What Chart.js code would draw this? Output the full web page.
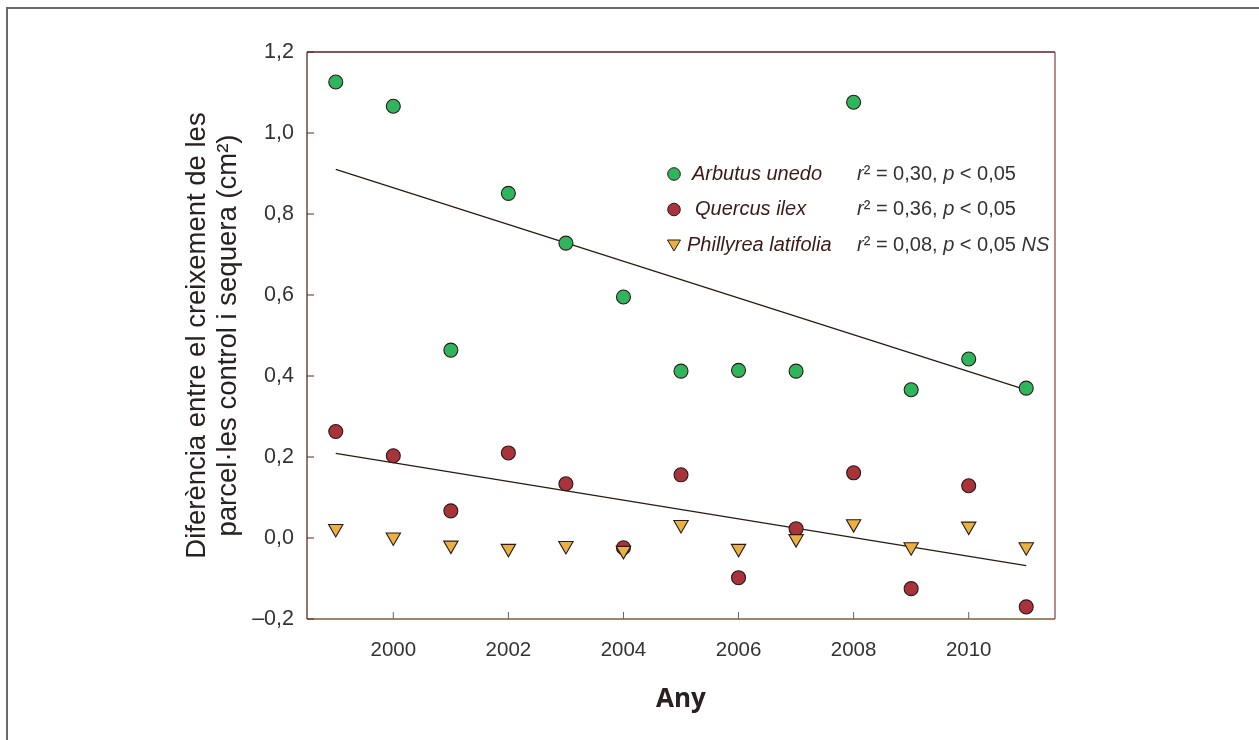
<!DOCTYPE html>
<html>
<head>
<meta charset="utf-8">
<script src="https://cdn.jsdelivr.net/npm/chart.js@4/dist/chart.umd.min.js"></script>
<style>
  html, body { margin: 0; padding: 0; background: #fff; }
  #wrap { position: relative; width: 1259px; height: 740px; overflow: hidden; }
  #box { position: absolute; left: 6px; top: 7px; width: 1300px; height: 800px;
         border-top: 2px solid #6a6a6a; border-left: 2px solid #6a6a6a; }
  canvas { position: absolute; left: 0; top: 0; }
</style>
</head>
<body>
<div id="wrap">
  <div id="box"></div>
  <canvas id="myChart" width="1259" height="740"></canvas>
</div>
<script>
// years and per-species differences (cm2)
const years = [1999, 2000, 2001, 2002, 2003, 2004, 2005, 2006, 2007, 2008, 2009, 2010, 2011];
const arbutus = [1.126, 1.066, 0.464, 0.851, 0.728, 0.595, 0.412, 0.414, 0.412, 1.076, 0.366, 0.442, 0.370];
const quercus = [0.263, 0.203, 0.067, 0.210, 0.134, -0.024, 0.156, -0.098, 0.023, 0.161, -0.125, 0.129, -0.170];
const phillyrea = [0.023, 0.002, -0.018, -0.026, -0.019, -0.031, 0.033, -0.026, -0.002, 0.035, -0.022, 0.029, -0.022];

// regression line ends
const fitYears = [1999, 2011];
const arbutusFit = [0.910, 0.366];
const quercusFit = [0.209, -0.068];

const xTicks = [2000, 2002, 2004, 2006, 2008, 2010];
const yTicks = [-0.2, 0, 0.2, 0.4, 0.6, 0.8, 1.0, 1.2];

const species = ['Arbutus unedo', 'Quercus ilex', 'Phillyrea latifolia'];
const r2Values = ['0,30', '0,36', '0,08'];
const pValues = ['< 0,05', '< 0,05', '< 0,05'];
const notes = ['', '', 'NS'];

const yTitle = ['Diferència entre el creixement de les', 'parcel·les control i sequera (cm²)'];
const xTitle = 'Any';

const green = '#2fb55c';
const red = '#a8333b';
const orange = '#e9b143';
const edge = '#2b1a1a';
const FONT = "'Liberation Sans', Arial, sans-serif";

function pts(xs, ys) {
	return xs.map((v, i) => ({x: v, y: ys[i]}));
}

function drawRuns(ctx, x, y, runs, size) {
	runs.forEach(r => {
		ctx.font = (r[1] ? 'italic ' : '') + size + 'px ' + FONT;
		ctx.fillStyle = r[2] || '#333';
		ctx.fillText(r[0], x, y);
		x += ctx.measureText(r[0]).width;
	});
}

function marker(ctx, kind, x, y, fill) {
	ctx.save();
	ctx.fillStyle = fill;
	ctx.strokeStyle = edge;
	ctx.lineWidth = 1;
	ctx.beginPath();
	if (kind === 'circle') {
		ctx.arc(x, y, 6.3, 0, Math.PI * 2);
	} else {
		ctx.moveTo(x - 6.5, y - 5);
		ctx.lineTo(x + 6.5, y - 5);
		ctx.lineTo(x, y + 6);
		ctx.closePath();
	}
	ctx.fill();
	ctx.stroke();
	ctx.restore();
}

const frame = {
	id: 'frame',
	afterDatasetsDraw(chart) {
		const {ctx, chartArea: a, scales: {x, y}} = chart;
		ctx.save();
		ctx.lineWidth = 1.3;
		// box
		ctx.strokeStyle = '#5a2020';
		ctx.beginPath(); ctx.moveTo(a.left, a.top); ctx.lineTo(a.right, a.top); ctx.stroke();
		ctx.strokeStyle = '#5a2a22';
		ctx.beginPath(); ctx.moveTo(a.left, a.top); ctx.lineTo(a.left, a.bottom); ctx.stroke();
		ctx.strokeStyle = '#9a4a4a';
		ctx.beginPath(); ctx.moveTo(a.right, a.top); ctx.lineTo(a.right, a.bottom); ctx.stroke();
		ctx.strokeStyle = '#7d6030';
		ctx.beginPath(); ctx.moveTo(a.left, a.bottom); ctx.lineTo(a.right, a.bottom); ctx.stroke();
		// inward ticks
		ctx.lineWidth = 1;
		ctx.strokeStyle = '#666';
		x.ticks.forEach(t => {
			const px = x.getPixelForValue(t.value);
			ctx.beginPath(); ctx.moveTo(px, a.bottom); ctx.lineTo(px, a.bottom - 7); ctx.stroke();
		});
		ctx.strokeStyle = '#5a2a22';
		y.ticks.forEach(t => {
			const py = y.getPixelForValue(t.value);
			ctx.beginPath(); ctx.moveTo(a.left, py); ctx.lineTo(a.left + 7, py); ctx.stroke();
		});

		// axis titles
		ctx.fillStyle = '#2a2020';
		ctx.textAlign = 'center';
		ctx.textBaseline = 'middle';
		ctx.font = 'bold 26px "Open Sans", ' + FONT;
		ctx.fillText(xTitle, (a.left + a.right) / 2, 700);
		ctx.save();
		ctx.translate(197, (a.top + a.bottom) / 2);
		ctx.rotate(-Math.PI / 2);
		ctx.font = '27.5px ' + FONT;
		ctx.fillText(yTitle[0], 0, 0);
		ctx.fillText(yTitle[1], 0, 31);
		ctx.restore();

		// legend
		ctx.textAlign = 'left';
		const kinds = ['circle', 'circle', 'triangle'];
		const fills = [green, red, orange];
		const nameX = [692, 695, 687];
		species.forEach((s, i) => {
			const ly = 174 + i * 35.5;
			marker(ctx, kinds[i], 674, ly, fills[i]);
			drawRuns(ctx, nameX[i], ly, [[s, true, '#3a1a14']], 20);
			const runs = [['r', true], ['²', false], [' = ' + r2Values[i] + ', ', false], ['p', true], [' ' + pValues[i], false]];
			if (notes[i]) runs.push([' ' + notes[i], true]);
			drawRuns(ctx, 857, ly, runs, 20);
		});
		ctx.restore();
	}
};

function initialize() {
	const ctx = document.getElementById('myChart');
	new Chart(ctx, {
		type: 'scatter',
		data: {
			datasets: [
				{
					label: species[2],
					data: pts(years, phillyrea),
					pointStyle: 'triangle',
					rotation: 180,
					pointRadius: 8.3,
					backgroundColor: orange,
					borderColor: edge,
					borderWidth: 1.1,
					order: 0
				},
				{
					label: species[1],
					data: pts(years, quercus),
					pointRadius: 7,
					backgroundColor: red,
					borderColor: edge,
					borderWidth: 1.1,
					order: 1
				},
				{
					label: species[0],
					data: pts(years, arbutus),
					pointRadius: 7,
					backgroundColor: green,
					borderColor: edge,
					borderWidth: 1.1,
					order: 1
				},
				{
					type: 'line',
					data: pts(fitYears, arbutusFit),
					borderColor: '#2a1a12',
					borderWidth: 1.3,
					pointRadius: 0,
					order: 2
				},
				{
					type: 'line',
					data: pts(fitYears, quercusFit),
					borderColor: '#2a1a12',
					borderWidth: 1.3,
					pointRadius: 0,
					order: 2
				}
			]
		},
		options: {
			responsive: false,
			animation: false,
			layout: { padding: { top: 52, right: 204, left: 0, bottom: 0 } },
			plugins: { legend: { display: false }, tooltip: { enabled: false } },
			scales: {
				x: {
					type: 'linear',
					min: 1998.5,
					max: 2011.5,
					afterBuildTicks: s => { s.ticks = xTicks.map(v => ({value: v})); },
					afterFit: s => { s.height = 121; },
					grid: { display: false, drawTicks: false },
					border: { display: false },
					ticks: {
						padding: 19,
						color: '#333',
						font: { family: FONT, size: 20.5 },
						callback: v => String(v)
					}
				},
				y: {
					min: -0.2,
					max: 1.2,
					afterBuildTicks: s => { s.ticks = yTicks.map(v => ({value: v})); },
					afterFit: s => { s.width = 307; },
					grid: { display: false, drawTicks: false },
					border: { display: false },
					ticks: {
						padding: 13,
						color: '#333',
						font: { family: FONT, size: 21.5 },
						callback: v => (v < 0 ? '\u2013' : '') + Math.abs(v).toFixed(1).replace('.', ',')
					}
				}
			}
		},
		plugins: [frame]
	});
} //initialize

initialize();
</script>
</body>
</html>
